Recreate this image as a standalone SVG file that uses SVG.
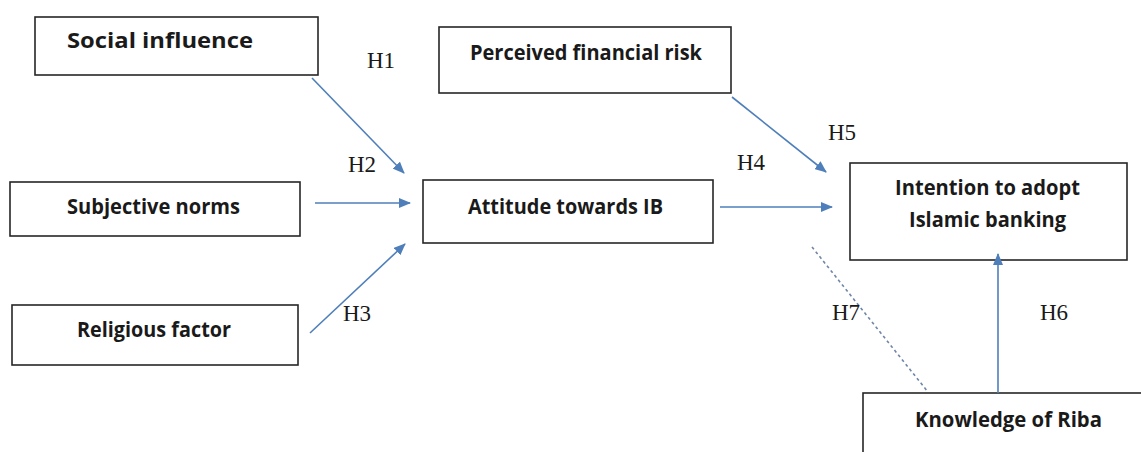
<svg xmlns="http://www.w3.org/2000/svg" width="1141" height="452" viewBox="0 0 1141 452">
<style>
.box{fill:#fff;stroke:#262626;stroke-width:1.6}
.lbl{font-family:"Open Sans","Liberation Sans",sans-serif;font-weight:bold;font-size:20.5px;fill:#1a1a1a}
.h{font-family:"Liberation Serif",serif;font-size:23px;fill:#1a1a1a}
.arr{stroke:#4f7fba;stroke-width:1.6;fill:none;marker-end:url(#ah)}
.dash{stroke:#6f86a8;stroke-width:1.6;fill:none;stroke-dasharray:3 3}
</style>
<defs>
<marker id="ah" viewBox="0 0 12 10" refX="11" refY="5" markerWidth="12" markerHeight="10" markerUnits="userSpaceOnUse" orient="auto">
<path d="M0,0 L12,5 L0,10 z" fill="#4f7fba"/>
</marker>
</defs>
<rect width="1141" height="452" fill="#fff"/>
<g id="n-social"><rect class="box" x="35" y="17" width="283" height="58"/><text class="lbl" x="67" y="48" textLength="186" lengthAdjust="spacingAndGlyphs">Social influence</text></g>
<g id="n-subjective"><rect class="box" x="10" y="182" width="290" height="54"/><text class="lbl" x="67" y="214" textLength="173" lengthAdjust="spacingAndGlyphs">Subjective norms</text></g>
<g id="n-religious"><rect class="box" x="12" y="305" width="286" height="60"/><text class="lbl" x="77" y="337" textLength="154" lengthAdjust="spacingAndGlyphs">Religious factor</text></g>
<g id="n-attitude"><rect class="box" x="423" y="180" width="290" height="63"/><text class="lbl" x="468" y="214" textLength="195" lengthAdjust="spacingAndGlyphs">Attitude towards IB</text></g>
<g id="n-risk"><rect class="box" x="439" y="27" width="292" height="66"/><text class="lbl" x="470" y="60" textLength="232" lengthAdjust="spacingAndGlyphs">Perceived financial risk</text></g>
<g id="n-intention"><rect class="box" x="850" y="163" width="277" height="97"/><text class="lbl" x="895" y="195" textLength="185" lengthAdjust="spacingAndGlyphs">Intention to adopt</text><text class="lbl" x="909" y="227" textLength="157" lengthAdjust="spacingAndGlyphs">Islamic banking</text></g>
<g id="n-riba"><rect class="box" x="863" y="393" width="290" height="70"/><text class="lbl" x="915" y="427" textLength="187" lengthAdjust="spacingAndGlyphs">Knowledge of Riba</text></g>
<g id="connectors">
<line class="arr" x1="312" y1="78" x2="404" y2="173"/>
<line class="arr" x1="315" y1="203" x2="410" y2="203"/>
<line class="arr" x1="310" y1="333" x2="405" y2="244"/>
<line class="arr" x1="732" y1="97" x2="826" y2="172"/>
<line class="arr" x1="720" y1="207" x2="832" y2="207"/>
<line class="arr" x1="998" y1="393" x2="998" y2="254"/>
<line class="dash" x1="812" y1="247" x2="928" y2="392"/>
</g>
<g id="hyp-labels">
<text class="h" x="367" y="68">H1</text>
<text class="h" x="348" y="172">H2</text>
<text class="h" x="343" y="321">H3</text>
<text class="h" x="737" y="170">H4</text>
<text class="h" x="828" y="140">H5</text>
<text class="h" x="1040" y="320">H6</text>
<text class="h" x="832" y="320">H7</text>
</g>
</svg>
